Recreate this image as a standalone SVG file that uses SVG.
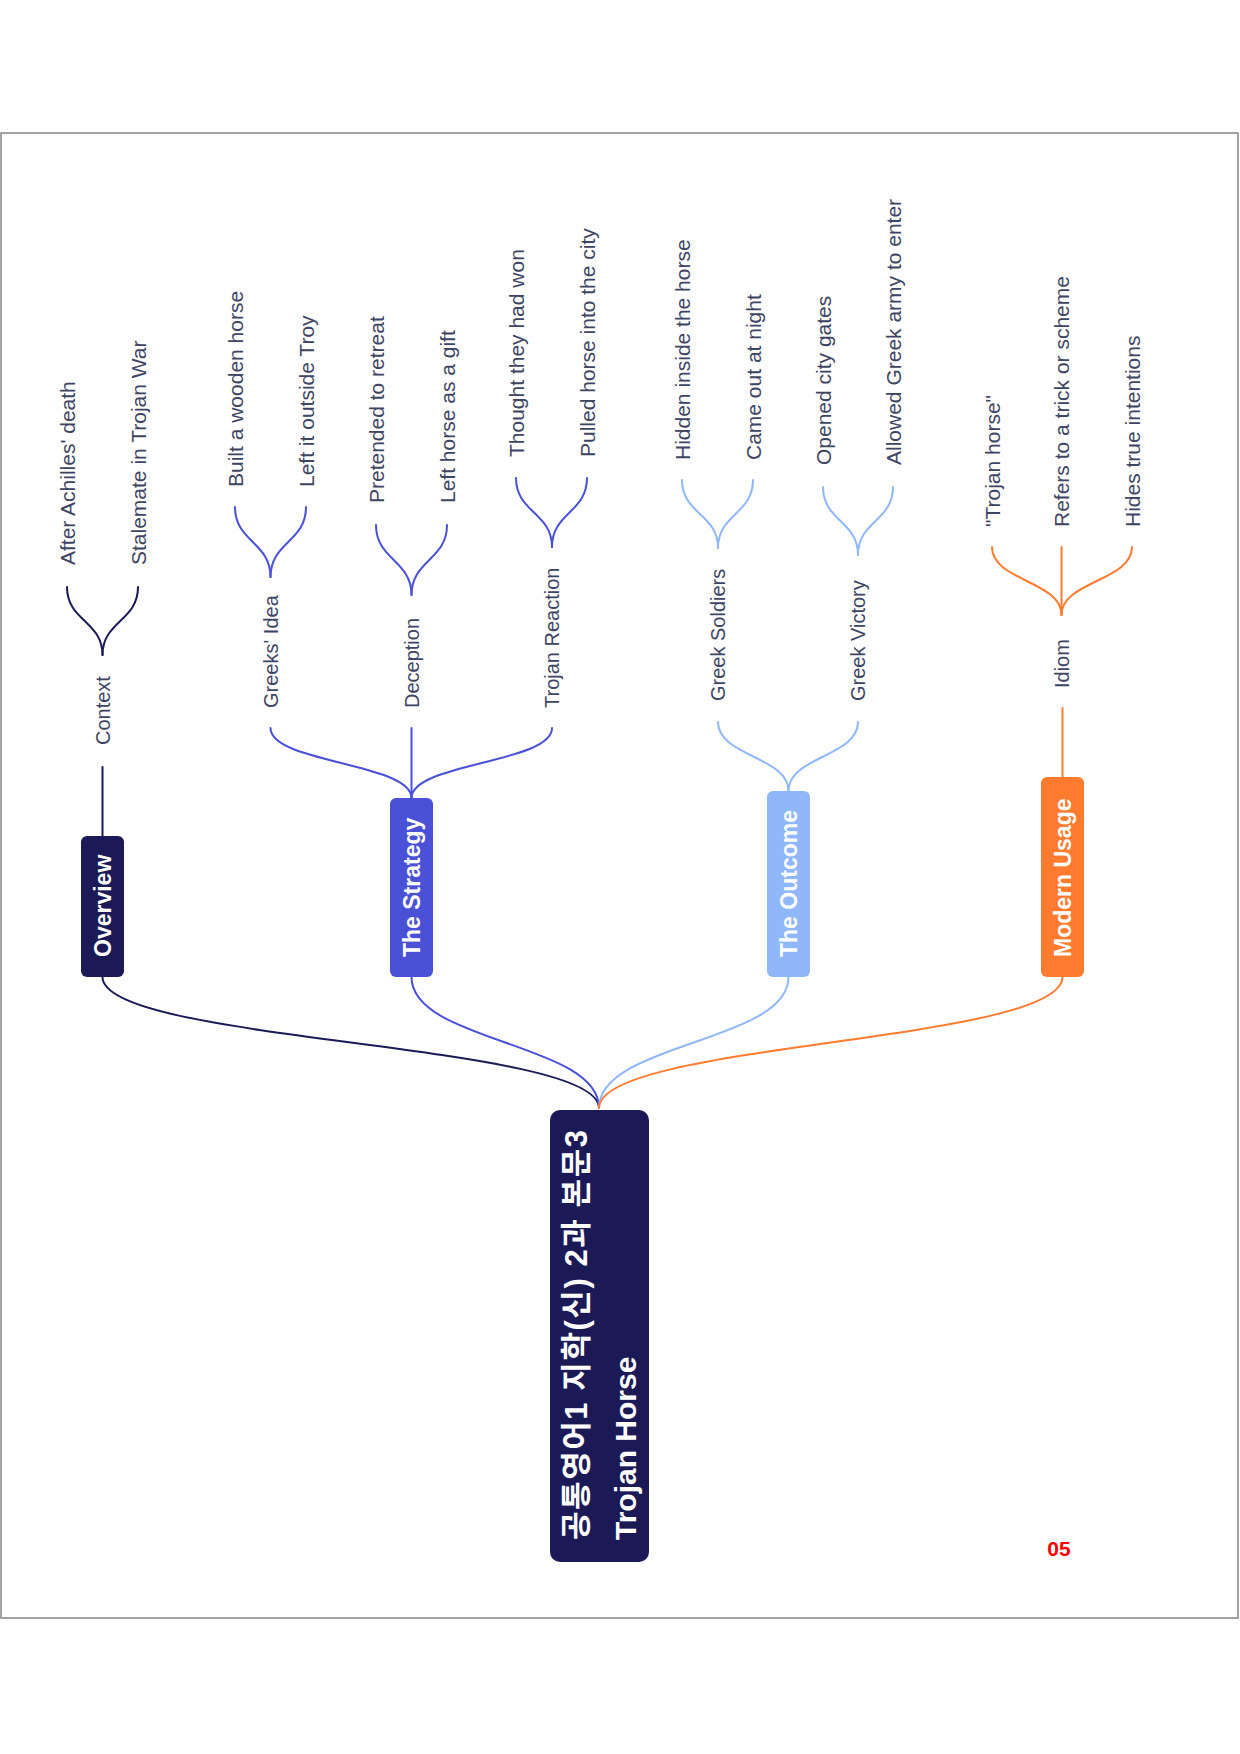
<svg xmlns="http://www.w3.org/2000/svg" width="1240" height="1754" viewBox="0 0 1240 1754">
<style>
.frame{fill:#ffffff;stroke:#858585;stroke-width:1.5}
.c{fill:none;stroke-width:2;stroke-linecap:round}
.navy{stroke:#1b1a57}
.strat{stroke:#4a51d7}
.out{stroke:#8fb7fa}
.mod{stroke:#fe7b2f}
.box-navy{fill:#1b1a57}
.box-strat{fill:#4a51d7}
.box-out{fill:#8fb7fa}
.box-mod{fill:#fe7b2f}
.root-t{font-family:"Liberation Sans","Noto Sans CJK KR",sans-serif;font-weight:bold;font-size:30px;fill:#ffffff;dominant-baseline:central}
.br-t{font-family:"Liberation Sans",Arial,sans-serif;font-weight:bold;font-size:23px;fill:#ffffff;dominant-baseline:central}
.t{font-family:"Liberation Sans",Arial,sans-serif;font-size:21px;fill:#3e4463;dominant-baseline:central}
.s{font-size:20px}
.pg{font-family:"Liberation Sans",Arial,sans-serif;font-weight:bold;font-size:21px;fill:#ff0000;text-anchor:middle}
</style>
<rect x="0" y="0" width="1240" height="1754" fill="#ffffff"/>
<rect class="frame" x="1" y="133" width="1237" height="1485"/>

<g id="connectors">
  <path class="c navy" d="M599,1108 C599,1042.5 102.5,1042.5 102.5,977"/>
  <path class="c strat" d="M599,1108 C599,1042.5 411.5,1042.5 411.5,977"/>
  <path class="c out" d="M599,1108 C599,1042.5 788.5,1042.5 788.5,977"/>
  <path class="c mod" d="M599,1108 C599,1042.5 1062.5,1042.5 1062.5,977"/>

  <path class="c navy" d="M102.5,836 L102.5,767"/>
  <path class="c strat" d="M411.5,798 C411.5,763 270.5,763 270.5,728"/>
  <path class="c strat" d="M411.5,798 L411.5,728"/>
  <path class="c strat" d="M411.5,798 C411.5,763 552,763 552,728"/>
  <path class="c out" d="M788.5,791 C788.5,756.5 718,756.5 718,722"/>
  <path class="c out" d="M788.5,791 C788.5,756.5 858,756.5 858,722"/>
  <path class="c mod" d="M1062.5,777 L1062.5,708"/>

  <path class="c navy" d="M102.5,655 C102.5,621 67,621 67,587"/>
  <path class="c navy" d="M102.5,655 C102.5,621 138,621 138,587"/>
  <path class="c strat" d="M270.5,577 C270.5,542 235,542 235,507"/>
  <path class="c strat" d="M270.5,577 C270.5,542 306,542 306,507"/>
  <path class="c strat" d="M411.5,595 C411.5,560 376,560 376,525"/>
  <path class="c strat" d="M411.5,595 C411.5,560 447,560 447,525"/>
  <path class="c strat" d="M552,547 C552,512.5 516,512.5 516,478"/>
  <path class="c strat" d="M552,547 C552,512.5 587,512.5 587,478"/>
  <path class="c out" d="M718,548 C718,514 682,514 682,480"/>
  <path class="c out" d="M718,548 C718,514 753,514 753,480"/>
  <path class="c out" d="M858,555 C858,521 823,521 823,487"/>
  <path class="c out" d="M858,555 C858,521 893,521 893,487"/>
  <path class="c mod" d="M1061.5,615 C1061.5,581 992,581 992,547"/>
  <path class="c mod" d="M1061.5,615 L1061.5,547"/>
  <path class="c mod" d="M1061.5,615 C1061.5,581 1132,581 1132,547"/>
</g>

<g id="root">
  <rect class="box-navy" x="550" y="1110" width="99" height="452" rx="10"/>
  <text class="root-t" x="576" y="1540" transform="rotate(-90 576 1540)" style="font-size:31px" textLength="410" lengthAdjust="spacing">공통영어1 지학(신) 2과 본문3</text>
  <text class="root-t" x="625" y="1540" transform="rotate(-90 625 1540)">Trojan Horse</text>
</g>

<g id="overview">
  <rect class="box-navy" x="81" y="836" width="43" height="141" rx="6"/>
  <text class="br-t" x="102.5" y="957" transform="rotate(-90 102.5 957)">Overview</text>
</g>
<g id="strategy">
  <rect class="box-strat" x="390" y="798" width="43" height="179" rx="6"/>
  <text class="br-t" x="411.5" y="957" transform="rotate(-90 411.5 957)">The Strategy</text>
</g>
<g id="outcome">
  <rect class="box-out" x="767" y="791" width="43" height="186" rx="6"/>
  <text class="br-t" x="788.5" y="957" transform="rotate(-90 788.5 957)">The Outcome</text>
</g>
<g id="modern">
  <rect class="box-mod" x="1041" y="777" width="43" height="200" rx="6"/>
  <text class="br-t" x="1062.5" y="957" transform="rotate(-90 1062.5 957)">Modern Usage</text>
</g>

<g id="context"><text class="t s" x="102.5" y="745" transform="rotate(-90 102.5 745)">Context</text></g>
<g id="greeks-idea"><text class="t s" x="270.5" y="708" transform="rotate(-90 270.5 708)">Greeks' Idea</text></g>
<g id="deception"><text class="t s" x="411.5" y="708" transform="rotate(-90 411.5 708)">Deception</text></g>
<g id="trojan-reaction"><text class="t s" x="552" y="708" transform="rotate(-90 552 708)">Trojan Reaction</text></g>
<g id="greek-soldiers"><text class="t s" x="718" y="701" transform="rotate(-90 718 701)">Greek Soldiers</text></g>
<g id="greek-victory"><text class="t s" x="858" y="701" transform="rotate(-90 858 701)">Greek Victory</text></g>
<g id="idiom"><text class="t s" x="1061.5" y="688" transform="rotate(-90 1061.5 688)">Idiom</text></g>

<g id="leaf-achilles"><text class="t" x="67" y="565" transform="rotate(-90 67 565)">After Achilles' death</text></g>
<g id="leaf-stalemate"><text class="t" x="138" y="565" transform="rotate(-90 138 565)">Stalemate in Trojan War</text></g>
<g id="leaf-built"><text class="t" x="235" y="487" transform="rotate(-90 235 487)">Built a wooden horse</text></g>
<g id="leaf-left-outside"><text class="t" x="306" y="487" transform="rotate(-90 306 487)">Left it outside Troy</text></g>
<g id="leaf-pretended"><text class="t" x="376" y="503" transform="rotate(-90 376 503)">Pretended to retreat</text></g>
<g id="leaf-gift"><text class="t" x="447" y="503" transform="rotate(-90 447 503)">Left horse as a gift</text></g>
<g id="leaf-thought"><text class="t" x="516" y="457" transform="rotate(-90 516 457)">Thought they had won</text></g>
<g id="leaf-pulled"><text class="t" x="587" y="457" transform="rotate(-90 587 457)">Pulled horse into the city</text></g>
<g id="leaf-hidden"><text class="t" x="682" y="460" transform="rotate(-90 682 460)">Hidden inside the horse</text></g>
<g id="leaf-night"><text class="t" x="753" y="460" transform="rotate(-90 753 460)">Came out at night</text></g>
<g id="leaf-gates"><text class="t" x="823" y="465" transform="rotate(-90 823 465)">Opened city gates</text></g>
<g id="leaf-allowed"><text class="t" x="893" y="465" transform="rotate(-90 893 465)">Allowed Greek army to enter</text></g>
<g id="leaf-trojan-horse"><text class="t" x="992" y="527" transform="rotate(-90 992 527)">"Trojan horse"</text></g>
<g id="leaf-refers"><text class="t" x="1061.5" y="527" transform="rotate(-90 1061.5 527)">Refers to a trick or scheme</text></g>
<g id="leaf-hides"><text class="t" x="1132" y="527" transform="rotate(-90 1132 527)">Hides true intentions</text></g>

<text class="pg" x="1059" y="1556">05</text>
</svg>
